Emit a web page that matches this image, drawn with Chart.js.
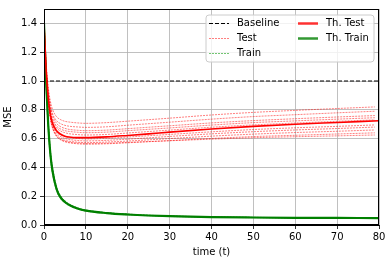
<!DOCTYPE html>
<html><head><meta charset="utf-8">
<script src="https://cdn.jsdelivr.net/npm/chart.js@4"></script>
<style>html,body{margin:0;padding:0;background:#fff}canvas{display:block}</style>
</head><body>
<canvas id="c" width="392" height="262"></canvas>
<script>
// ---------- data ----------
const xTickValues = [0,10,20,30,40,50,60,70,80];
const yTickValues = [0.0,0.2,0.4,0.6,0.8,1.0,1.2,1.4];
const baselineValue = 1.0;

const timeRuns   = [0,0.5,1,1.5,2,3,4,5,6,8,10,15,20,30,40,50,60,70,79];
const testRun1  = [1.42,1.134,0.963,0.863,0.806,0.752,0.731,0.720,0.715,0.709,0.706,0.711,0.721,0.742,0.764,0.782,0.796,0.809,0.820];
const testRun2  = [1.38,1.099,0.931,0.832,0.776,0.724,0.703,0.692,0.686,0.681,0.678,0.682,0.693,0.714,0.735,0.753,0.766,0.779,0.790];
const testRun3  = [1.44,1.126,0.938,0.828,0.765,0.706,0.682,0.671,0.664,0.658,0.655,0.659,0.669,0.689,0.709,0.725,0.738,0.750,0.760];
const testRun4  = [1.36,1.072,0.900,0.799,0.742,0.688,0.666,0.655,0.650,0.644,0.641,0.645,0.655,0.674,0.694,0.711,0.723,0.735,0.745];
const testRun5  = [1.40,1.090,0.904,0.796,0.734,0.675,0.652,0.641,0.634,0.628,0.625,0.629,0.639,0.659,0.679,0.695,0.708,0.720,0.730];
const testRun6  = [1.37,1.061,0.876,0.768,0.706,0.648,0.625,0.613,0.607,0.601,0.598,0.602,0.611,0.629,0.647,0.663,0.675,0.685,0.695];
const testRun7  = [1.43,1.092,0.889,0.770,0.702,0.639,0.614,0.601,0.594,0.587,0.584,0.588,0.596,0.615,0.633,0.648,0.660,0.670,0.680];
const testRun8  = [1.39,1.063,0.866,0.752,0.687,0.625,0.601,0.588,0.582,0.575,0.572,0.576,0.583,0.600,0.617,0.631,0.642,0.651,0.660];
const testRun9  = [1.41,1.070,0.867,0.748,0.680,0.616,0.591,0.578,0.571,0.564,0.561,0.564,0.571,0.586,0.601,0.614,0.623,0.632,0.640];
const testRun10 = [1.35,1.036,0.848,0.738,0.676,0.617,0.593,0.582,0.575,0.569,0.566,0.568,0.574,0.585,0.596,0.606,0.613,0.619,0.625];
const testRuns = [testRun1,testRun2,testRun3,testRun4,testRun5,testRun6,testRun7,testRun8,testRun9,testRun10];

const timeTrainRuns = [0,0.5,1,1.5,2,3,4,5,6,8,10,15,20,25,30,40,50,60,70,79];
const trainRun1 = [1.42,1.03,0.72,0.52,0.40,0.26,0.20,0.165,0.145,0.118,0.103,0.085,0.075,0.067,0.062,0.056,0.053,0.051,0.049,0.048];
const trainRun2 = [1.37,0.97,0.68,0.48,0.37,0.24,0.185,0.155,0.136,0.112,0.098,0.081,0.071,0.065,0.060,0.054,0.051,0.049,0.048,0.047];
const trainRun3 = [1.44,1.05,0.74,0.53,0.41,0.265,0.20,0.168,0.147,0.12,0.105,0.086,0.076,0.068,0.063,0.056,0.053,0.050,0.049,0.049];
const trainRun4 = [1.36,0.96,0.67,0.47,0.36,0.235,0.18,0.152,0.133,0.11,0.096,0.080,0.070,0.064,0.059,0.054,0.051,0.049,0.048,0.047];
const trainRun5 = [1.40,1.01,0.71,0.51,0.39,0.255,0.193,0.162,0.142,0.116,0.101,0.084,0.074,0.066,0.061,0.055,0.052,0.050,0.049,0.048];
const trainRuns = [trainRun1,trainRun2,trainRun3,trainRun4,trainRun5];

const timeTheory  = [0,0.5,1,1.5,2,3,4,5,6,8,10,15,20,25,30,40,50,60,70,80];
const theoryTest  = [1.40,1.08,0.88,0.77,0.71,0.655,0.630,0.617,0.611,0.607,0.607,0.612,0.622,0.633,0.645,0.667,0.685,0.700,0.712,0.724];
const theoryTrain = [1.40,1.00,0.70,0.50,0.38,0.25,0.19,0.16,0.14,0.115,0.100,0.083,0.073,0.066,0.061,0.055,0.052,0.050,0.049,0.048];

// ---------- build datasets ----------
const pts = (xs, ys) => xs.map((x,i)=>({x, y: ys[i]}));
const datasets = [];
datasets.push({label:'Baseline', data:[{x:0,y:baselineValue},{x:80,y:baselineValue}],
  borderColor:'#000', borderWidth:1, borderDash:[4,2], order:2});
testRuns.forEach(r=>datasets.push({label:'Test', data:pts(timeRuns,r),
  borderColor:'rgba(255,0,0,0.5)', borderWidth:1, borderDash:[2,1], order:3, cubicInterpolationMode:'monotone'}));
trainRuns.forEach(r=>datasets.push({label:'Train', data:pts(timeTrainRuns,r),
  borderColor:'rgba(0,140,0,0.5)', borderWidth:1, borderDash:[2,1], order:3, cubicInterpolationMode:'monotone'}));
datasets.push({label:'Th. Test', data:pts(timeTheory,theoryTest), borderColor:'#ff0000', borderWidth:1.6, order:0, cubicInterpolationMode:'monotone'});
datasets.push({label:'Th. Train', data:pts(timeTheory,theoryTrain), borderColor:'#008000', borderWidth:2.2, order:0, cubicInterpolationMode:'monotone'});

const FONT = {family:'"DejaVu Sans", sans-serif', size:10};

const framePlugin = {id:'frame', afterDraw(chart){
  const {ctx, chartArea:a} = chart;
  ctx.save(); ctx.strokeStyle='#000'; ctx.lineWidth=1;
  ctx.strokeRect(Math.round(a.left)+0.5, Math.round(a.top)+0.5, Math.round(a.right-a.left)-1, Math.round(a.bottom-a.top)-1);
  ctx.restore();
}};

const legendPlugin = {id:'mplLegend', afterDraw(chart){
  const ctx = chart.ctx; const a = chart.chartArea;
  const bx = a.right - 173, by = a.top + 6, bw = 168, bh = 47, rad = 3;
  ctx.save();
  ctx.beginPath();
  ctx.moveTo(bx+rad,by); ctx.lineTo(bx+bw-rad,by); ctx.quadraticCurveTo(bx+bw,by,bx+bw,by+rad);
  ctx.lineTo(bx+bw,by+bh-rad); ctx.quadraticCurveTo(bx+bw,by+bh,bx+bw-rad,by+bh);
  ctx.lineTo(bx+rad,by+bh); ctx.quadraticCurveTo(bx,by+bh,bx,by+bh-rad);
  ctx.lineTo(bx,by+rad); ctx.quadraticCurveTo(bx,by,bx+rad,by); ctx.closePath();
  ctx.fillStyle='rgba(255,255,255,0.8)'; ctx.fill();
  ctx.strokeStyle='#cccccc'; ctx.lineWidth=1; ctx.stroke();
  const items = [
    {t:'Baseline', c:'#000', w:1, d:[4,2], col:0, row:0},
    {t:'Test', c:'rgba(255,0,0,0.5)', w:1, d:[2,1], col:0, row:1},
    {t:'Train', c:'rgba(0,150,0,0.55)', w:1, d:[2,1], col:0, row:2},
    {t:'Th. Test', c:'rgba(255,0,0,0.8)', w:2.5, d:[], col:1, row:0},
    {t:'Th. Train', c:'rgba(0,128,0,0.8)', w:2.5, d:[], col:1, row:1},
  ];
  ctx.font = '10px "DejaVu Sans", sans-serif'; ctx.textBaseline='middle'; ctx.textAlign='left';
  items.forEach(it=>{
    const lx = bx + 3 + it.col*89, ly = by + 8.5 + it.row*15;
    ctx.beginPath(); ctx.setLineDash(it.d); ctx.strokeStyle=it.c; ctx.lineWidth=it.w;
    ctx.moveTo(lx, ly); ctx.lineTo(lx+20, ly); ctx.stroke();
    ctx.setLineDash([]); ctx.fillStyle='#000';
    ctx.fillText(it.t, lx+28, ly);
  });
  ctx.restore();
}};

new Chart(document.getElementById('c'), {
  type:'line',
  data:{datasets},
  options:{
    responsive:false, devicePixelRatio:1, animation:false,
    layout:{padding:{top:5,right:13,left:0,bottom:0}},
    plugins:{legend:{display:false}, tooltip:{enabled:false}},
    elements:{point:{radius:0}, line:{tension:0}},
    scales:{
      x:{type:'linear', min:0, max:80,
        afterFit(s){ s.height = 37; },
        afterBuildTicks(s){ s.ticks = xTickValues.map(v=>({value:v})); },
        ticks:{font:FONT, color:'#000', padding:2, maxRotation:0, callback:v=>String(v)},
        grid:{color:'#b0b0b0', lineWidth:0.8, tickColor:'#000', tickLength:4},
        border:{color:'#000'},
        title:{display:true, text:'time (t)', font:FONT, color:'#000', padding:{top:0,bottom:4}}},
      y:{type:'linear', min:0, max:1.5,
        afterFit(s){ s.width = 44; },
        afterBuildTicks(s){ s.ticks = yTickValues.map(v=>({value:v})); },
        ticks:{font:FONT, color:'#000', padding:3, callback:v=>Number(v).toFixed(1)},
        grid:{color:'#b0b0b0', lineWidth:0.8, tickColor:'#000', tickLength:4},
        border:{color:'#000'},
        title:{display:true, text:'MSE', font:FONT, color:'#000', padding:{top:2,bottom:2}}}
    }
  },
  plugins:[framePlugin, legendPlugin]
});
</script>
</body></html>
